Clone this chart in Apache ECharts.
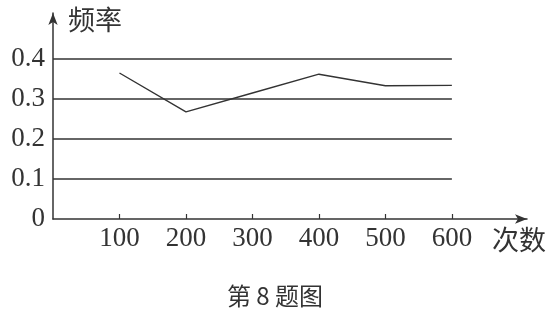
<!DOCTYPE html>
<html><head><meta charset="utf-8">
<script src="https://cdn.jsdelivr.net/npm/echarts@6/dist/echarts.min.js"></script>
<style>html,body{margin:0;padding:0;background:#fff}#c{width:550px;height:326px}</style>
</head><body><div id="c"></div>
<script>
const trials = [100, 200, 300, 400, 500, 600];
const freq = [0.365, 0.268, 0.315, 0.362, 0.333, 0.334];
const yTicks = [0, 0.1, 0.2, 0.3, 0.4];
const xTicks = [100, 200, 300, 400, 500, 600];
const yName = '频率';
const xName = '次数';
const caption = '第 8 题图';

const ink = '#333';
const chart = echarts.init(document.getElementById('c'), null, {renderer: 'canvas'});
chart.setOption({
  animation: false,
  backgroundColor: '#fff',
  grid: {left: 53, right: 23, top: 13, bottom: 107},
  xAxis: {
    type: 'value', min: 0, max: 713,
    axisLine: {lineStyle: {color: ink, width: 1.5}, symbol: ['none', 'arrow'], symbolSize: [7, 12]},
    axisTick: {show: true, inside: true, length: 5, lineStyle: {color: ink, width: 1.2}, customValues: xTicks},
    axisLabel: {customValues: xTicks, color: ink, fontFamily: 'Liberation Serif', fontSize: 27, margin: 6},
    splitLine: {show: false}
  },
  yAxis: {
    type: 'value', min: 0, max: 0.515,
    axisLine: {show: true, lineStyle: {color: ink, width: 1.5}, symbol: ['none', 'arrow'], symbolSize: [7, 12]},
    axisTick: {show: false},
    axisLabel: {customValues: yTicks, color: ink, fontFamily: 'Liberation Serif', fontSize: 27, margin: 8},
    splitLine: {show: false}
  },
  series: [{
    type: 'line',
    data: trials.map((t, i) => [t, freq[i]]),
    showSymbol: false,
    lineStyle: {color: ink, width: 1.4},
    markLine: {
      silent: true, symbol: 'none', label: {show: false},
      lineStyle: {color: ink, width: 1.5, type: 'solid'},
      data: yTicks.filter(v => v > 0).map(v => [{coord: [0, v]}, {coord: [600, v]}])
    }
  }],
  graphic: [
    {type: 'text', left: 68, top: 6, style: {text: yName, fill: ink, font: '27px "Noto Sans CJK SC"'}},
    {type: 'text', left: 492, top: 226, style: {text: xName, fill: ink, font: '27px "Noto Sans CJK SC"'}},
    {type: 'text', left: 'center', top: 284, style: {text: caption, fill: ink, font: '24px "Noto Sans CJK SC"'}}
  ]
});
</script></body></html>
